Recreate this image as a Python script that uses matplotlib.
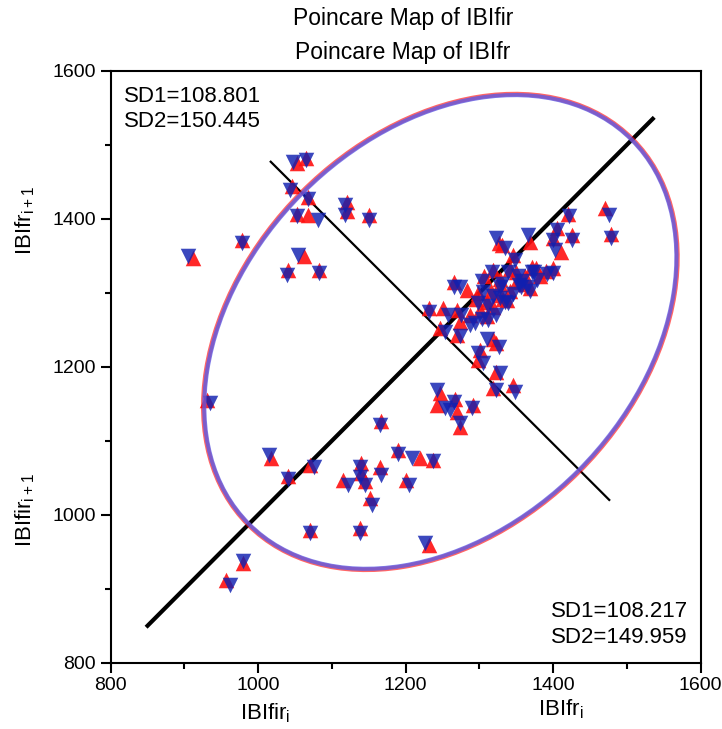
import matplotlib
matplotlib.use("Agg")
import matplotlib.pyplot as plt
from matplotlib.patches import Ellipse
from matplotlib.ticker import MultipleLocator

plt.rcParams['font.family'] = ['Liberation Sans', 'DejaVu Sans']

# IBIfir (red, up triangles)
fir_x = [1053, 1065, 1046, 1068, 1052, 1068, 1120, 1120, 978, 912, 1062, 1040, 1082, 1150,
         1470, 1478, 1420, 1405, 1425, 1400, 1411, 1369, 1327, 1346, 1371, 1400, 1330, 1319,
         1341, 1382, 1355, 1328, 1369, 1265, 1283, 1298, 1231, 1251, 1269, 1287, 1301, 1319,
         1310, 1274, 1328, 1337, 1362, 1246, 1269, 1319, 1323, 1301, 1298, 1323, 1319, 1346,
         1247, 1242, 1269, 1267, 1291, 1274, 1167, 1190, 931, 1018, 1041, 1070, 1115, 1140,
         1140, 1145, 1165, 1152, 1219, 1237, 1201, 1138, 1070, 1231, 980, 957, 1328, 1351,
         1332, 1310, 1350, 1362, 1342, 1315, 1295, 1377, 1390, 1306]
fir_y = [1475, 1482, 1444, 1430, 1407, 1405, 1423, 1410, 1371, 1347, 1349, 1331, 1331, 1405,
         1414, 1380, 1407, 1387, 1378, 1374, 1355, 1369, 1367, 1351, 1335, 1333, 1364, 1331,
         1332, 1322, 1314, 1312, 1306, 1315, 1304, 1299, 1279, 1279, 1277, 1270, 1277, 1281,
         1268, 1261, 1297, 1290, 1312, 1252, 1243, 1238, 1232, 1223, 1209, 1193, 1171, 1175,
         1164, 1148, 1139, 1157, 1148, 1119, 1126, 1087, 1155, 1076, 1053, 1067, 1047, 1070,
         1056, 1045, 1065, 1022, 1076, 1074, 1047, 982, 979, 959, 935, 912, 1318, 1316,
         1292, 1288, 1328, 1322, 1303, 1302, 1292, 1334, 1330, 1322]

# IBIfr (blue, down triangles)
fr_x = [1047, 1065, 1043, 1068, 1052, 1081, 1118, 1118, 978, 905, 1054, 1039, 1082, 1150,
        1475, 1478, 1421, 1405, 1425, 1400, 1402, 1366, 1323, 1348, 1371, 1400, 1335, 1317,
        1339, 1378, 1357, 1328, 1369, 1265, 1274, 1305, 1231, 1258, 1275, 1294, 1303, 1323,
        1312, 1287, 1328, 1339, 1364, 1253, 1274, 1310, 1326, 1298, 1305, 1328, 1323, 1348,
        1242, 1253, 1260, 1265, 1290, 1274, 1165, 1190, 935, 1014, 1041, 1075, 1122, 1138,
        1138, 1145, 1167, 1154, 1208, 1237, 1204, 1138, 1070, 1226, 980, 962, 1330, 1353,
        1334, 1312, 1352, 1358, 1345, 1318, 1298, 1374, 1392, 1304]
fr_y = [1476, 1479, 1439, 1426, 1404, 1398, 1418, 1405, 1367, 1349, 1351, 1324, 1326, 1398,
        1405, 1374, 1403, 1385, 1371, 1371, 1358, 1378, 1374, 1344, 1328, 1326, 1360, 1328,
        1328, 1317, 1308, 1308, 1302, 1308, 1308, 1301, 1274, 1270, 1270, 1259, 1265, 1270,
        1263, 1256, 1293, 1286, 1308, 1247, 1241, 1238, 1227, 1218, 1205, 1191, 1168, 1166,
        1168, 1144, 1142, 1153, 1144, 1124, 1121, 1082, 1151, 1081, 1048, 1065, 1040, 1065,
        1051, 1040, 1054, 1013, 1076, 1072, 1040, 975, 975, 962, 937, 905, 1312, 1310,
        1287, 1282, 1322, 1316, 1298, 1296, 1286, 1328, 1325, 1316]

# summary values
sd_fir = (108.801, 150.445)
sd_fr = (108.217, 149.959)
center = (1247, 1247)
ell_scale = 2.4477  # 95% confidence ellipse
line_lo, line_hi = 850, 1535
perp_start = (1017, 1477)
perp_end = (1476, 1020)

fig = plt.figure(figsize=(7.22, 7.29), dpi=100)
ax = fig.add_axes([0.1533, 0.0909, 0.8172, 0.8121])

ax.plot([line_lo, line_hi], [line_lo, line_hi], color='black', lw=3, zorder=2)
ax.plot([perp_start[0], perp_end[0]], [perp_start[1], perp_end[1]], color='black', lw=1.6, zorder=2)

ax.scatter(fir_x, fir_y, marker='^', s=125, color='#FF1010', alpha=0.9, linewidths=0, zorder=3)
ax.scatter(fr_x, fr_y, marker='v', s=125, color='#1020B0', alpha=0.82, linewidths=0, zorder=4)

e1 = Ellipse(center, 2 * ell_scale * sd_fir[1], 2 * ell_scale * sd_fir[0], angle=45,
             fill=False, edgecolor='red', lw=3.4, alpha=0.6, zorder=5)
e2 = Ellipse(center, 2 * ell_scale * sd_fr[1], 2 * ell_scale * sd_fr[0], angle=45,
             fill=False, edgecolor='#5A5AE6', lw=3.0, alpha=0.78, zorder=6)
ax.add_patch(e1)
ax.add_patch(e2)

ax.set_xlim(800, 1600)
ax.set_ylim(800, 1600)
ax.xaxis.set_major_locator(MultipleLocator(200))
ax.yaxis.set_major_locator(MultipleLocator(200))
ax.xaxis.set_minor_locator(MultipleLocator(100))
ax.yaxis.set_minor_locator(MultipleLocator(100))
ax.tick_params(which='both', direction='out', top=False, right=False, width=1.5, labelsize=14)
ax.tick_params(which='major', length=7)
ax.tick_params(which='minor', length=4)
for s in ax.spines.values():
    s.set_linewidth(1.5)

ax.text(0.022, 0.975, 'SD1=108.801\nSD2=150.445', transform=ax.transAxes, fontsize=16,
        va='top', ha='left', linespacing=1.3)
ax.text(0.978, 0.025, 'SD1=108.217\nSD2=149.959', transform=ax.transAxes, fontsize=16,
        va='bottom', ha='right', linespacing=1.3)

fig.text(0.558, 0.975, 'Poincare Map of IBIfir', fontsize=16.5, ha='center', va='center')
fig.text(0.558, 0.928, 'Poincare Map of IBIfr', fontsize=16.5, ha='center', va='center')
fig.text(0.367, 0.021, r'IBIfir$_{\mathregular{i}}$', fontsize=16, ha='center', va='center')
fig.text(0.776, 0.027, r'IBIfr$_{\mathregular{i}}$', fontsize=16, ha='center', va='center')
fig.text(0.035, 0.698, r'IBIfr$_{\mathregular{i+1}}$', fontsize=16, ha='center', va='center', rotation=90)
fig.text(0.035, 0.300, r'IBIfir$_{\mathregular{i+1}}$', fontsize=16, ha='center', va='center', rotation=90)

fig.savefig('out.png', dpi=100)
